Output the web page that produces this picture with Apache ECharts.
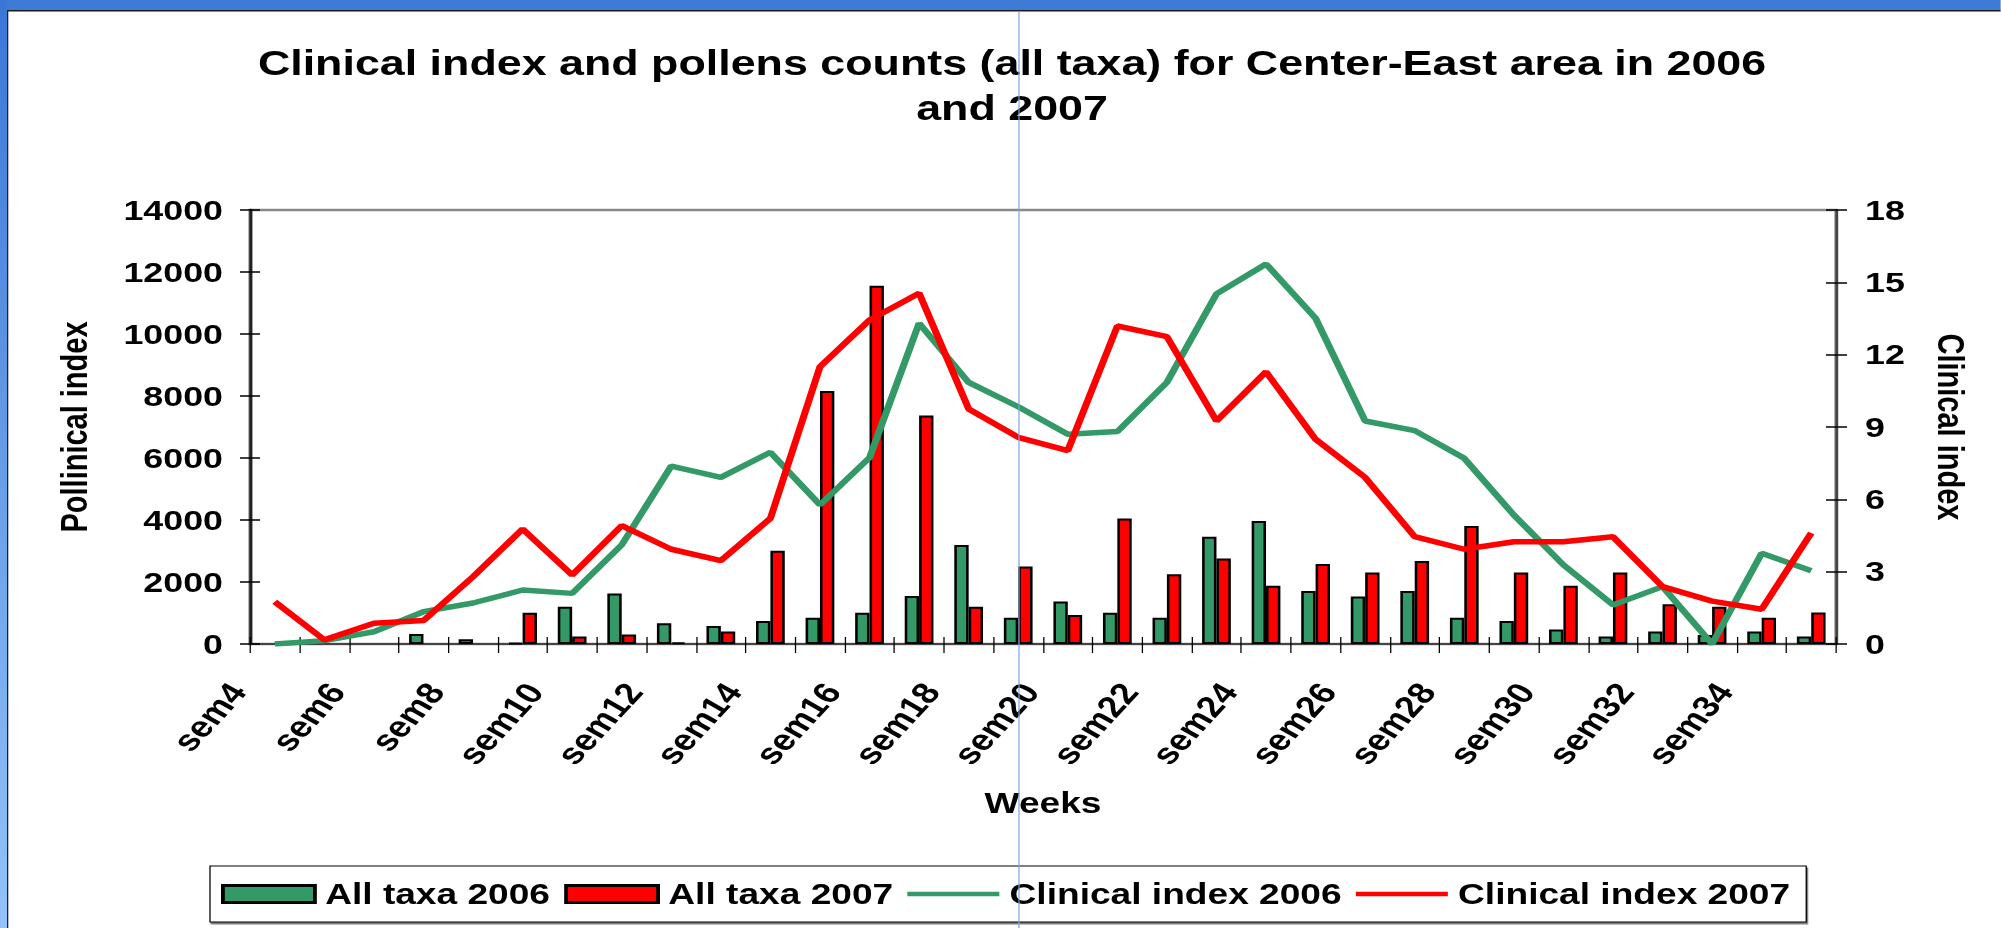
<!DOCTYPE html>
<html>
<head>
<meta charset="utf-8">
<script src="https://cdn.jsdelivr.net/npm/echarts@6/dist/echarts.min.js"></script>
<style>
html,body{margin:0;padding:0;background:#fff;overflow:hidden;width:2001px;height:928px}
#c{position:absolute;left:0;top:0;height:928px;transform-origin:0 0}
</style>
</head>
<body>
<div id="c"></div>
<script>
// ---- data (null = no bar drawn) ----
const weeks = ['sem4','sem5','sem6','sem7','sem8','sem9','sem10','sem11','sem12','sem13','sem14','sem15','sem16','sem17','sem18','sem19','sem20','sem21','sem22','sem23','sem24','sem25','sem26','sem27','sem28','sem29','sem30','sem31','sem32','sem33','sem34','sem35'];
const allTaxa2006 = [null,null,null,320,150,40,1200,1630,670,580,740,850,1010,1550,3190,850,1370,1010,850,3460,3970,1710,1530,1710,850,740,470,240,400,290,400,240];
const allTaxa2007 = [null,null,null,null,null,1010,240,310,50,400,3010,8160,11560,7370,1200,2500,935,4050,2250,2760,1880,2580,2310,2680,3810,2310,1880,2310,1280,1200,850,1020];
const clinical2006 = [0,0.14,0.51,1.34,1.7,2.24,2.1,4.11,7.38,6.91,7.95,5.77,7.73,13.3,10.85,9.84,8.7,8.81,10.85,14.52,15.76,13.51,9.25,8.85,7.7,5.35,3.28,1.62,2.38,0,3.76,3.04];
const clinical2007 = [1.75,0.17,0.86,0.97,2.79,4.77,2.86,4.91,3.93,3.46,5.21,11.5,13.44,14.55,9.75,8.57,8.02,13.19,12.75,9.25,11.29,8.49,6.91,4.45,3.93,4.24,4.24,4.45,2.38,1.78,1.44,4.6];
const pollenAxis = {min: 0, max: 14000, interval: 2000};
const clinicalAxis = {min: 0, max: 18, interval: 3};
const seriesNames = ['All taxa 2006', 'All taxa 2007', 'Clinical index 2006', 'Clinical index 2007'];
const titleText = 'Clinical index and pollens counts (all taxa) for Center-East area in 2006\nand 2007';

// ---- layout: the reference is horizontally stretched ----
const S = 1.28;
const W = 2001 / S;
const fx = v => v / S;
const el = document.getElementById('c');
el.style.width = W + 'px';
el.style.transform = 'scaleX(' + S + ')';

const FONT = "'Liberation Sans', Arial, sans-serif";
const GREEN = '#339966';
const RED = '#ff0000';
const bold = (size, extra) => Object.assign({fontFamily: FONT, fontWeight: 'bold', fontSize: size, color: '#000'}, extra || {});

const chart = echarts.init(el, null, {renderer: 'svg', width: W, height: 928});

const gridLeft = fx(250), gridRight = W - fx(1836);
const lineIcon = 'path://M0,0L0.01,0Z M0,6.25L72,6.25L72,10.75L0,10.75Z M0,17L0.01,17Z';

chart.setOption({
  animation: false,
  backgroundColor: '#fff',
  title: {
    text: titleText,
    left: fx(1012),
    textAlign: 'center',
    top: 41,
    padding: 0,
    textStyle: bold(35, {lineHeight: 45})
  },
  legend: {
    left: fx(210),
    top: 866,
    orient: 'horizontal',
    padding: [13, fx(16), 13, fx(11)],
    itemGap: 11,
    itemWidth: fx(92),
    itemHeight: 17,
    backgroundColor: '#fff',
    borderColor: '#000',
    borderWidth: 1,
    shadowColor: 'rgba(0,0,0,0.5)',
    shadowBlur: 0,
    shadowOffsetX: 1,
    shadowOffsetY: 2,
    textStyle: bold(29, {lineHeight: 30, padding: [0, 0, 0, 3]}),
    data: [
      {name: seriesNames[0], icon: 'rect', itemStyle: {borderWidth: 3, borderColor: '#000'}},
      {name: seriesNames[1], icon: 'rect', itemStyle: {borderWidth: 3, borderColor: '#000'}},
      {name: seriesNames[2], icon: lineIcon, itemStyle: {borderWidth: 0}},
      {name: seriesNames[3], icon: lineIcon, itemStyle: {borderWidth: 0}}
    ]
  },
  grid: {
    left: gridLeft, right: gridRight, top: 210, bottom: 284,
    containLabel: false, outerBoundsMode: 'none',
    show: true, borderColor: '#888', borderWidth: 2.5, backgroundColor: '#fff'
  },
  xAxis: [{
    type: 'category',
    data: weeks,
    boundaryGap: true,
    position: 'bottom',
    name: 'Weeks',
    nameLocation: 'middle',
    nameGap: 144,
    nameTextStyle: bold(29, {lineHeight: 30}),
    axisLine: {show: true, onZero: false, lineStyle: {color: '#444', width: 2}},
    axisTick: {show: true, interval: 0, length: 9, lineStyle: {color: '#000', width: 1}},
    axisLabel: Object.assign(bold(29.5), {
      interval: 1, rotate: 54, margin: 2, hideOverlap: false,
      formatter: v => '{t|' + v + '}{g|\u00a0}',
      rich: {
        t: bold(29.5, {lineHeight: 31}),
        g: bold(29.5, {lineHeight: 31, width: 50})
      }
    }),
    splitLine: {show: false}
  }, {
    type: 'category',
    data: weeks,
    boundaryGap: true,
    position: 'bottom',
    axisLine: {show: false, onZero: false},
    axisTick: {show: true, inside: true, interval: 0, length: 7, lineStyle: {color: '#000', width: 1}},
    axisLabel: {show: false},
    splitLine: {show: false}
  }],
  yAxis: [{
    type: 'value',
    position: 'left',
    min: pollenAxis.min, max: pollenAxis.max, interval: pollenAxis.interval,
    name: 'Pollinical index',
    nameLocation: 'middle',
    nameRotate: 90,
    nameGap: 122,
    nameTextStyle: bold(29, {lineHeight: 30}),
    axisLine: {show: true, lineStyle: {color: '#222', width: 2.4}},
    axisTick: {show: true, length: fx(10), lineStyle: {color: '#000', width: 1.5}},
    axisLabel: Object.assign(bold(28), {margin: fx(27), formatter: v => String(v)}),
    splitLine: {show: false}
  }, {
    type: 'value',
    position: 'right',
    min: clinicalAxis.min, max: clinicalAxis.max, interval: clinicalAxis.interval,
    name: 'Clinical index',
    nameLocation: 'middle',
    nameRotate: -90,
    nameGap: 75,
    nameTextStyle: bold(29, {lineHeight: 30}),
    axisLine: {show: true, lineStyle: {color: '#444', width: 2.2}},
    axisTick: {show: true, length: fx(11), lineStyle: {color: '#000', width: 1.5}},
    axisLabel: Object.assign(bold(28), {margin: fx(29), formatter: v => String(v)}),
    splitLine: {show: false}
  }, {
    type: 'value',
    position: 'left',
    min: pollenAxis.min, max: pollenAxis.max, interval: pollenAxis.interval,
    axisLine: {show: false},
    axisTick: {show: true, inside: true, length: fx(10), lineStyle: {color: '#000', width: 1.5}},
    axisLabel: {show: false},
    splitLine: {show: false}
  }, {
    type: 'value',
    position: 'right',
    min: clinicalAxis.min, max: clinicalAxis.max, interval: clinicalAxis.interval,
    axisLine: {show: false},
    axisTick: {show: true, inside: true, length: fx(10), lineStyle: {color: '#000', width: 1.5}},
    axisLabel: {show: false},
    splitLine: {show: false}
  }],
  series: [{
    name: seriesNames[0],
    type: 'bar',
    xAxisIndex: 0, yAxisIndex: 0,
    data: allTaxa2006,
    barGap: '0%',
    barCategoryGap: '42%',
    itemStyle: {color: GREEN, borderColor: '#000', borderWidth: 2}
  }, {
    name: seriesNames[1],
    type: 'bar',
    xAxisIndex: 0, yAxisIndex: 0,
    data: allTaxa2007,
    barGap: '0%',
    barCategoryGap: '42%',
    itemStyle: {color: RED, borderColor: '#000', borderWidth: 2}
  }, {
    name: seriesNames[2],
    type: 'line',
    xAxisIndex: 0, yAxisIndex: 1,
    data: clinical2006,
    symbol: 'none',
    lineStyle: {color: GREEN, width: 5.5},
    itemStyle: {color: GREEN}
  }, {
    name: seriesNames[3],
    type: 'line',
    xAxisIndex: 0, yAxisIndex: 1,
    data: clinical2007,
    symbol: 'none',
    lineStyle: {color: RED, width: 5.5},
    itemStyle: {color: RED}
  }],
  graphic: [
    {type: 'rect', z: 100, shape: {x: 0, y: 0, width: W, height: 10}, style: {fill: '#3d7bd6'}},
    {type: 'rect', z: 100, shape: {x: 0, y: 10, width: W, height: 1.5}, style: {fill: '#1a1a1a'}},
    {type: 'rect', z: 100, shape: {x: 0, y: 0, width: fx(7), height: 928},
      style: {fill: new echarts.graphic.LinearGradient(0, 0, 0, 1, [{offset: 0, color: '#3a77d6'}, {offset: 1, color: '#93c3f8'}])}},
    {type: 'rect', z: 100, shape: {x: fx(7), y: 10, width: fx(1.3), height: 918}, style: {fill: '#222'}},
    {type: 'line', z: 100, shape: {x1: fx(1019), y1: 11, x2: fx(1019), y2: 928}, style: {stroke: '#7aa4e0', lineWidth: fx(1.2)}}
  ]
});
</script>
</body>
</html>
